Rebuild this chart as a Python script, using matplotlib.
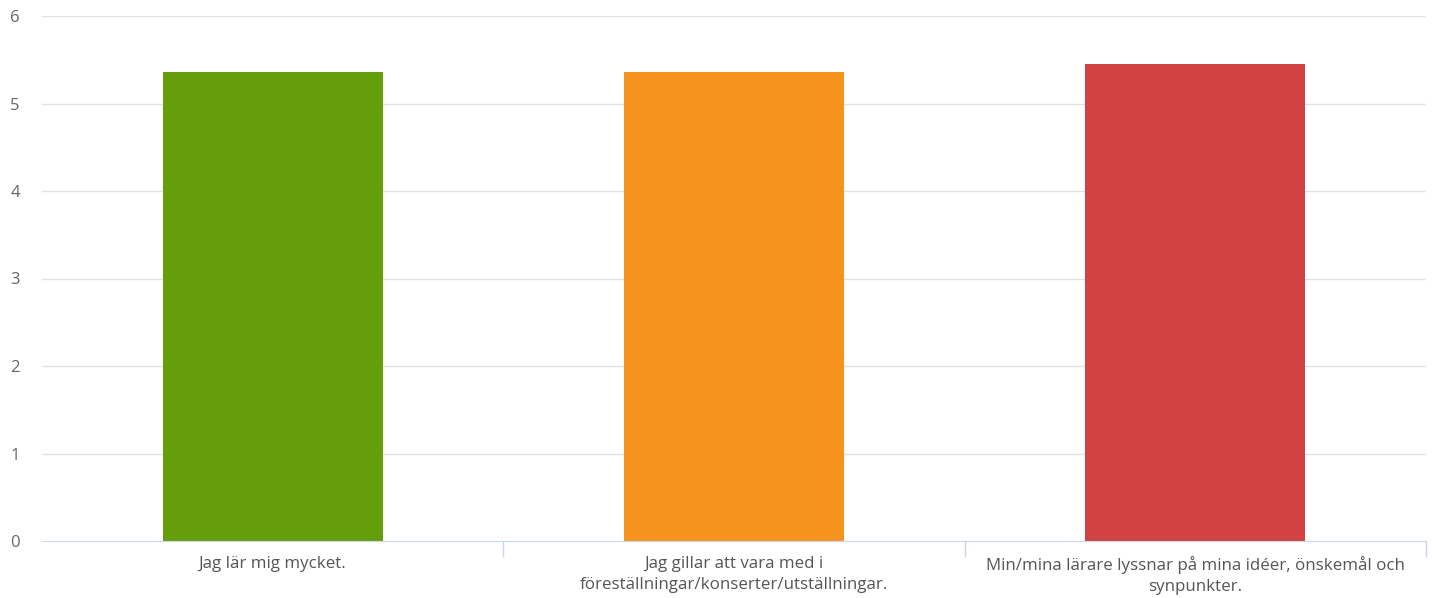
import matplotlib
matplotlib.use("Agg")
import matplotlib.pyplot as plt
import numpy as np

categories = ["Jag lär mig mycket.",
              "Jag gillar att vara med i\nföreställningar/konserter/utställningar.",
              "Min/mina lärare lyssnar på mina idéer, önskemål och\nsynpunkter."]
values = [5.36, 5.36, 5.45]
colors = ["#649e0b", "#f6931e", "#d14343"]
yticks = [0, 1, 2, 3, 4, 5, 6]

plt.rcParams['font.family'] = ['Open Sans', 'DejaVu Sans']

fig = plt.figure(figsize=(14.34, 5.98), dpi=100)
ax = fig.add_axes([42/1434, 1-541/598, 1384/1434, 525/598])

x = np.arange(len(categories))
ax.bar(x, values, width=0.477, color=colors, zorder=3)

ax.set_xlim(-0.5, len(categories) - 0.5)
ax.set_ylim(0, 6)
ax.set_yticks(yticks)
ax.set_yticklabels([str(t) for t in yticks], fontsize=12, color="#666666")
for t in yticks[1:]:
    ax.axhline(t, color="#dde2e8", lw=1, zorder=1)

ax.set_xticks(x)
ax.set_xticklabels(categories, fontsize=12.2, color="#555555", linespacing=1.38)
ax.tick_params(axis='x', length=0, pad=11)
ax.tick_params(axis='y', length=0, pad=16)

# category boundary ticks
for b in np.arange(0.5, len(categories) - 0.5, 1):
    ax.plot([b, b], [0, -0.17], color="#ccd6eb", lw=1, clip_on=False, zorder=2)
ax.plot([len(categories) - 0.5] * 2, [0, -0.17], color="#ccd6eb", lw=1, clip_on=False)

for s in ["top", "right", "left"]:
    ax.spines[s].set_visible(False)
ax.spines["bottom"].set_color("#ccd6eb")
ax.spines["bottom"].set_zorder(4)

fig.savefig("out.png", dpi=100)
